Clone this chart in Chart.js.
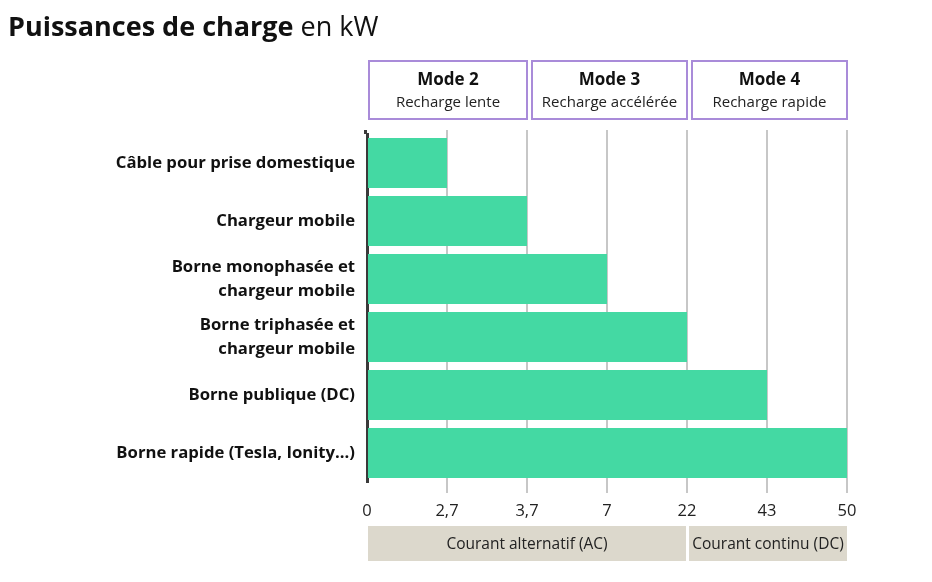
<!DOCTYPE html>
<html lang="fr">
<head>
<meta charset="utf-8">
<title>Puissances de charge en kW</title>
<script src="https://cdn.jsdelivr.net/npm/chart.js@4.4.1/dist/chart.umd.min.js"></script>
<style>
  html, body { margin: 0; padding: 0; background: #fff; }
  #boite { position: relative; width: 932px; height: 582px; }
</style>
</head>
<body>
<div id="boite"><canvas id="graphique"></canvas></div>
<script>
// Données
const categories = [
  "Câble pour prise domestique",
  "Chargeur mobile",
  ["Borne monophasée et", "chargeur mobile"],
  ["Borne triphasée et", "chargeur mobile"],
  "Borne publique (DC)",
  "Borne rapide (Tesla, Ionity...)"
];
const puissancesKw = [2.7, 3.7, 7, 22, 43, 50];
// l'axe n'est pas proportionnel : chaque graduation est à égale distance
const valeursGraduations = [0, 2.7, 3.7, 7, 22, 43, 50];
const libellesGraduations = ["0", "2,7", "3,7", "7", "22", "43", "50"];

const modesTitres = ["Mode 2", "Mode 3", "Mode 4"];
const modesSousTitres = ["Recharge lente", "Recharge accélérée", "Recharge rapide"];
const modesBornes = [[0, 3.7], [3.7, 22], [22, 50]];

const courantsLibelles = ["Courant alternatif (AC)", "Courant continu (DC)"];
const courantsBornes = [[0, 22], [22, 50]];

// position d'une valeur sur l'axe (index de graduation)
const pos = v => valeursGraduations.indexOf(v);

const police = "'Open Sans', 'Noto Sans', sans-serif";

const decor = {
  id: 'decor',
  afterDatasetsDraw(chart) {
    // prolongement des lignes de grille au-dessus de la zone
    const ctx = chart.ctx;
    const x = chart.scales.x;
    const top = chart.chartArea.top;
    ctx.save();
    valeursGraduations.forEach((v, i) => {
      const px = x.getPixelForValue(i);
      ctx.beginPath();
      if (i === 0) {
        ctx.strokeStyle = '#3a3a3a';
        ctx.lineWidth = 3;
        ctx.moveTo(px - 1.5, top - 4);
        ctx.lineTo(px - 1.5, top);
      } else {
        ctx.strokeStyle = 'rgba(0,0,0,0.22)';
        ctx.lineWidth = 2;
        ctx.moveTo(px, top - 4);
        ctx.lineTo(px, top);
      }
      ctx.stroke();
    });
    ctx.restore();
  },
  afterDraw(chart) {
    const ctx = chart.ctx;
    const x = chart.scales.x;
    ctx.save();

    // Titre
    ctx.textBaseline = 'alphabetic';
    ctx.textAlign = 'left';
    ctx.fillStyle = '#111';
    ctx.font = "bold 27px " + police;
    ctx.fillText("Puissances de charge", 8, 36);
    const w = ctx.measureText("Puissances de charge ").width;
    ctx.font = "27px " + police;
    ctx.fillText("en kW", 8 + w, 36);

    // Cadres des modes
    modesBornes.forEach((b, i) => {
      const s = pos(b[0]), e = pos(b[1]);
      const gauche = x.getPixelForValue(s) + (s === 0 ? 1 : 4);
      const droite = x.getPixelForValue(e) + 1;
      ctx.strokeStyle = '#a98bd9';
      ctx.lineWidth = 2;
      ctx.strokeRect(gauche + 1, 61, droite - gauche - 2, 58);
      const cx = (gauche + droite) / 2;
      ctx.textAlign = 'center';
      ctx.textBaseline = 'middle';
      ctx.fillStyle = '#111';
      ctx.font = "bold 17px " + police;
      ctx.fillText(modesTitres[i], cx, 80);
      ctx.fillStyle = '#222';
      ctx.font = "15px " + police;
      ctx.fillText(modesSousTitres[i], cx, 103);
    });

    // Bandeaux du courant
    courantsBornes.forEach((b, i) => {
      const s = pos(b[0]), e = pos(b[1]);
      const gauche = x.getPixelForValue(s) + (s === 0 ? 1 : 2);
      const droite = x.getPixelForValue(e) + (e === 6 ? 0 : -1);
      ctx.fillStyle = '#dcd8cc';
      ctx.fillRect(gauche, 526, droite - gauche, 35);
      ctx.fillStyle = '#222';
      ctx.font = "15.5px " + police;
      ctx.textAlign = 'center';
      ctx.textBaseline = 'middle';
      ctx.fillText(courantsLibelles[i], (gauche + droite) / 2, 545);
    });
    ctx.restore();
  }
};

new Chart(document.getElementById('graphique'), {
  type: 'bar',
  data: {
    labels: categories,
    datasets: [{
      data: puissancesKw.map(pos),
      backgroundColor: '#44d9a3',
      borderWidth: 0,
      categoryPercentage: 1,
      barPercentage: 50 / 58
    }]
  },
  options: {
    indexAxis: 'y',
    responsive: true,
    maintainAspectRatio: false,
    animation: false,
    layout: { padding: { top: 134, right: 85, bottom: 56, left: 0 } },
    plugins: {
      legend: { display: false },
      tooltip: { enabled: false }
    },
    scales: {
      x: {
        type: 'linear',
        min: 0,
        max: 6,
        z: 1,
        afterFit(scale) { scale.height = 44; },
        border: { display: false },
        grid: {
          drawTicks: true,
          tickLength: 11,
          color: ctx => ctx.index === 0 ? 'rgba(0,0,0,0)' : 'rgba(0,0,0,0.22)',
          lineWidth: 2
        },
        ticks: {
          stepSize: 1,
          padding: 8,
          color: '#222',
          font: { family: police, size: 16.5 },
          callback: v => libellesGraduations[v]
        }
      },
      y: {
        afterFit(scale) { scale.width = 367; },
        border: { display: true, color: '#3a3a3a', width: 3 },
        grid: { display: false, drawTicks: false },
        ticks: {
          padding: 12,
          color: '#111',
          font: { family: police, size: 16.7, weight: 'bold', lineHeight: 1.45 }
        }
      }
    }
  },
  plugins: [decor]
});
</script>
</body>
</html>
